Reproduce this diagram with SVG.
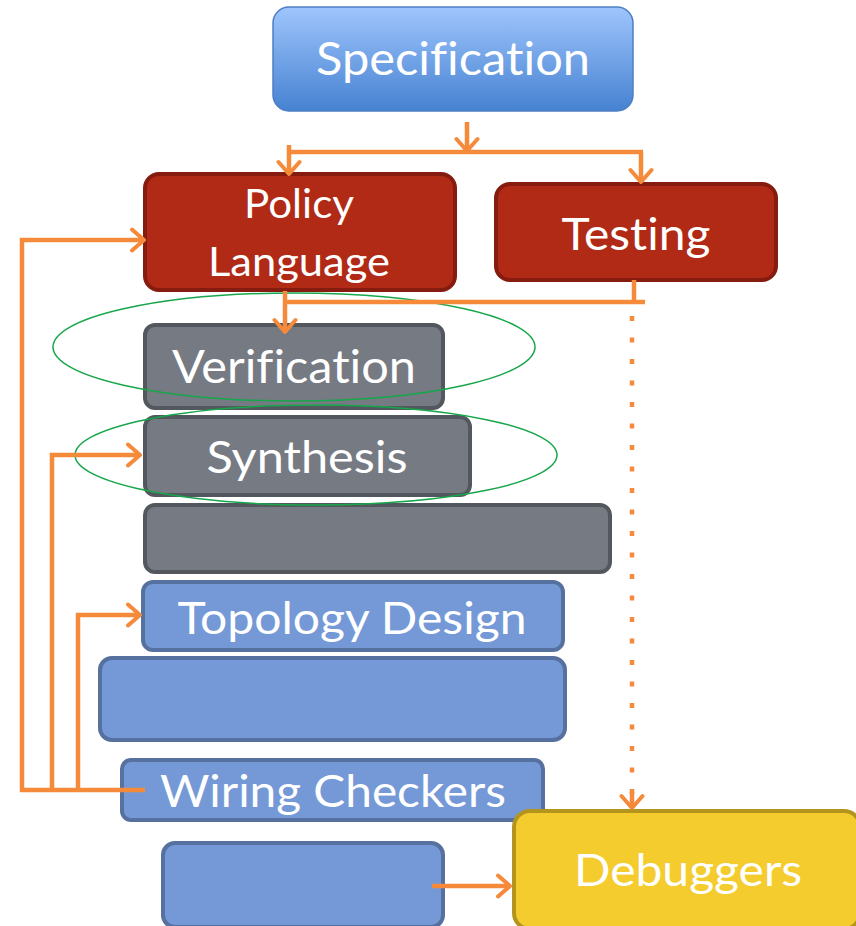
<svg xmlns="http://www.w3.org/2000/svg" width="856" height="926" viewBox="0 0 856 926">
  <defs>
    <linearGradient id="specFill" x1="0" y1="0" x2="0" y2="1">
      <stop offset="0" stop-color="#9fc5fd"/>
      <stop offset="1" stop-color="#4682d1"/>
    </linearGradient>
    <marker id="arrowBig" viewBox="0 0 26 26" refX="22" refY="13" markerWidth="26" markerHeight="26" markerUnits="userSpaceOnUse" orient="auto">
      <path d="M10,2.5 L22,13 L10,23.5" fill="none" stroke="#f68a3b" stroke-width="4" stroke-linecap="round" stroke-linejoin="round"/>
    </marker>
  </defs>
  <style>
    .lbl { font-family: Lato, "Open Sans", "Liberation Sans", sans-serif; fill: #ffffff; text-anchor: middle; font-variant-ligatures: none; font-feature-settings: "liga" 0, "clig" 0; }
    .red { fill: #b02a16; stroke: #861c10; stroke-width: 4; }
    .gray { fill: #767a83; stroke: #53575e; stroke-width: 4; }
    .blue { fill: #7499d6; stroke: #56709f; stroke-width: 4; }
    .yellow { fill: #f4cc2e; stroke: #b3951e; stroke-width: 4; }
    .wire { fill: none; stroke: #f68a3b; stroke-width: 4.5; }
    .ring { fill: none; stroke: #17a64a; stroke-width: 1.5; }
  </style>

  <!-- boxes -->
  <g id="specification">
    <rect x="273" y="7" width="360" height="104" rx="16" fill="url(#specFill)" stroke="#4d7fc4" stroke-width="1.5"/>
    <text class="lbl" x="453" y="75" font-size="46" textLength="274" lengthAdjust="spacingAndGlyphs">Specification</text>
  </g>
  <g id="policy-language">
    <rect class="red" x="145" y="174" width="310" height="116" rx="14"/>
    <text class="lbl" x="299" y="218" font-size="40" textLength="110" lengthAdjust="spacingAndGlyphs">Policy</text>
    <text class="lbl" x="299" y="276" font-size="40" textLength="182" lengthAdjust="spacingAndGlyphs">Language</text>
  </g>
  <g id="testing">
    <rect class="red" x="496" y="184" width="280" height="96" rx="14"/>
    <text class="lbl" x="636" y="250" font-size="44" textLength="149" lengthAdjust="spacingAndGlyphs">Testing</text>
  </g>
  <g id="verification">
    <rect class="gray" x="145" y="325" width="298" height="83" rx="10"/>
    <text class="lbl" x="294" y="383" font-size="46" textLength="244" lengthAdjust="spacingAndGlyphs">Verification</text>
  </g>
  <g id="synthesis">
    <rect class="gray" x="145" y="417" width="325" height="78" rx="10"/>
    <text class="lbl" x="307" y="473" font-size="44" textLength="201" lengthAdjust="spacingAndGlyphs">Synthesis</text>
  </g>
  <g id="gray-block">
    <rect class="gray" x="145" y="505" width="465" height="67" rx="10"/>
  </g>
  <g id="topology-design">
    <rect class="blue" x="143" y="582" width="420" height="68" rx="10"/>
    <text class="lbl" x="352" y="634" font-size="44" textLength="349" lengthAdjust="spacingAndGlyphs">Topology Design</text>
  </g>
  <g id="blue-block">
    <rect class="blue" x="100" y="658" width="465" height="82" rx="12"/>
  </g>
  <g id="wiring-checkers">
    <rect class="blue" x="122" y="760" width="421" height="60" rx="9"/>
    <text class="lbl" x="333" y="807" font-size="44" textLength="346" lengthAdjust="spacingAndGlyphs">Wiring Checkers</text>
  </g>
  <g id="blue-small-block">
    <rect class="blue" x="163" y="843" width="280" height="84" rx="12"/>
  </g>
  <g id="debuggers">
    <rect class="yellow" x="514" y="811" width="346" height="118" rx="16"/>
    <text class="lbl" x="688" y="886" font-size="44" textLength="228" lengthAdjust="spacingAndGlyphs">Debuggers</text>
  </g>

  <!-- rings around the two analysis stages -->
  <g id="rings">
    <ellipse class="ring" cx="294" cy="347" rx="241" ry="54"/>
    <ellipse class="ring" cx="316" cy="455" rx="241" ry="50"/>
  </g>

  <!-- connectors -->
  <g id="connectors">
    <path class="wire" d="M467,122 V151" marker-end="url(#arrowBig)"/>
    <path class="wire" d="M289,152 H643"/>
    <path class="wire" d="M289,145 V174" marker-end="url(#arrowBig)"/>
    <path class="wire" d="M641,152 V182" marker-end="url(#arrowBig)"/>

    <path class="wire" d="M285,291 V332" marker-end="url(#arrowBig)"/>
    <path class="wire" d="M285,302 H645"/>
    <path class="wire" d="M634,280 V302"/>
    <path class="wire" d="M632,316 V795" stroke-width="5" stroke-dasharray="5 16.5"/>
    <path class="wire" d="M632,792 V808" stroke-width="0" marker-end="url(#arrowBig)"/>

    <path class="wire" d="M145,790 H22 V240 H144" marker-end="url(#arrowBig)"/>
    <path class="wire" d="M52,790 V455 H140" marker-end="url(#arrowBig)"/>
    <path class="wire" d="M78,790 V615 H140" marker-end="url(#arrowBig)"/>

    <path class="wire" d="M432,886 H510" marker-end="url(#arrowBig)"/>
  </g>
</svg>
